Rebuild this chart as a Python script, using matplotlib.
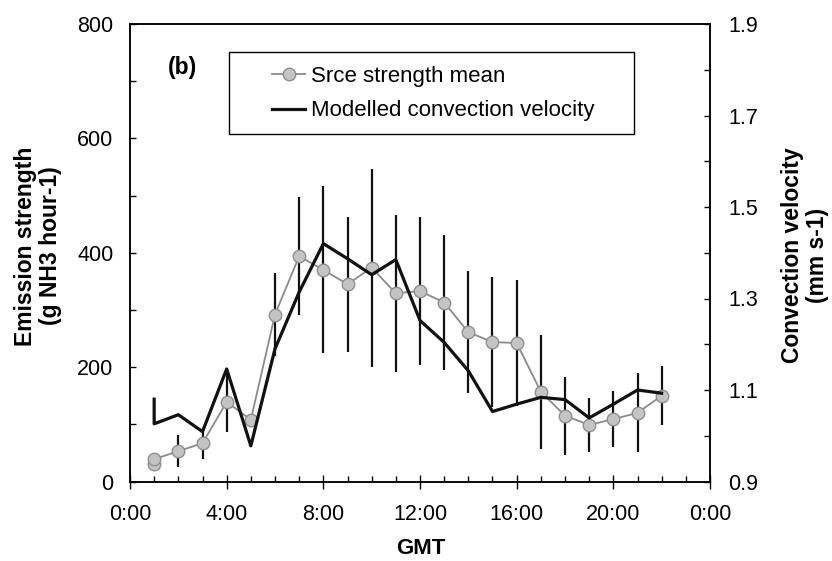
import matplotlib
matplotlib.use("Agg")
import matplotlib.pyplot as plt
from matplotlib.patches import Rectangle
from matplotlib.lines import Line2D
import numpy as np

plt.rcParams['font.family'] = ['Liberation Sans', 'DejaVu Sans']

# ---- data ----
hours = [1, 1, 2, 3, 4, 5, 6, 7, 8, 9, 10, 11, 12, 13, 14, 15, 16, 17, 18, 19, 20, 21, 22]
src_mean = [30, 39, 53, 67, 139, 108, 292, 394, 370, 345, 374, 329, 333, 313, 261, 244,
            242, 157, 115, 99, 109, 120, 150]
src_err = [0, 5, 28, 27, 52, 10, 72, 103, 146, 118, 173, 137, 129, 118, 107, 113,
           110, 100, 68, 47, 49, 69, 52]
conv_vel = [1.080, 1.026, 1.046, 1.009, 1.146, 0.978, 1.190, 1.314, 1.420, 1.387, 1.352,
            1.385, 1.252, 1.204, 1.142, 1.053, 1.069, 1.084, 1.079, 1.039, 1.069, 1.100, 1.093]
xtick_hours = [0, 4, 8, 12, 16, 20, 24]
xtick_labels = ["0:00", "4:00", "8:00", "12:00", "16:00", "20:00", "0:00"]
left_ticks = [0, 200, 400, 600, 800]
right_ticks = [0.9, 1.1, 1.3, 1.5, 1.7, 1.9]
right_tick_labels = ["0.9", "1.1", "1.3", "1.5", "1.7", "1.9"]

W, H = 832, 561
fig = plt.figure(figsize=(W / 100, H / 100), dpi=100)
x0, x1, ytop, ybot = 130, 710, 24, 481.5
ax = fig.add_axes([x0 / W, 1 - ybot / H, (x1 - x0) / W, (ybot - ytop) / H])
ax2 = ax.twinx()

# error bars + source strength
ax.errorbar(hours, src_mean, yerr=src_err, fmt='none', ecolor='#111111',
            elinewidth=1.6, capsize=0, zorder=2)
ax.plot(hours, src_mean, color='#8a8a8a', lw=1.3, marker='o', markersize=9,
        markerfacecolor='#c4c4c4', markeredgecolor='#8f8f8f', markeredgewidth=1.0, zorder=3)

ax2.plot(hours, conv_vel, color='#111111', lw=2.3, zorder=4)

ax.set_xlim(0, 24)
ax.set_ylim(0, 800)
ax2.set_ylim(0.9, 1.9)

ax.set_xticks(xtick_hours)
ax.set_xticklabels(xtick_labels)
ax.set_xticks(np.arange(0, 25, 1), minor=True)
ax.set_yticks(left_ticks)
ax.set_yticks(np.arange(100, 800, 200), minor=True)
ax2.set_yticks(right_ticks)
ax2.set_yticklabels(right_tick_labels)
ax2.set_yticks(np.arange(1.0, 1.9, 0.2), minor=True)

ax.tick_params(axis='x', which='major', direction='inout', length=10, width=1.0,
               labelsize=15.5, pad=11)
ax.tick_params(axis='x', which='minor', direction='in', length=4.5, width=1.0)
ax.tick_params(axis='y', which='both', direction='in', length=4, width=1.0,
               labelsize=15.5, pad=12)
ax2.tick_params(axis='y', which='both', direction='in', length=4.5, width=1.0,
                labelsize=15.5, pad=13)

for a in (ax, ax2):
    for s in a.spines.values():
        s.set_linewidth(1.1)
        s.set_color('black')

# axis labels
fig.text(38 / W, 1 - 246 / H, "Emission strength\n(g NH3 hour-1)", rotation=90,
         ha='center', va='center', fontsize=16.5, fontweight='bold', multialignment='center',
         linespacing=1.15)
fig.text(805 / W, 1 - 255 / H, "Convection velocity\n(mm s-1)", rotation=90,
         ha='center', va='center', fontsize=16.5, fontweight='bold', multialignment='center',
         linespacing=1.15)
fig.text(421 / W, 1 - 548 / H, "GMT", ha='center', va='center', fontsize=16,
         fontweight='bold')

ax.text(0.091, 0.906, "(b)", transform=ax.transAxes, ha='center', va='center',
        fontsize=16.5, fontweight='bold')

# legend frame and legend
ax2.add_patch(Rectangle((0.170, 0.759), 0.699, 0.180, transform=ax.transAxes,
                        facecolor='white', edgecolor='black', lw=1.0, zorder=5))
h1 = Line2D([], [], color='#8a8a8a', lw=1.3, marker='o', markersize=9,
            markerfacecolor='#c4c4c4', markeredgecolor='#8f8f8f')
h2 = Line2D([], [], color='#111111', lw=2.3)
leg = ax2.legend([h1, h2], ["Srce strength mean", "Modelled convection velocity"],
                 loc='center left', bbox_to_anchor=(0.245, 0.848), frameon=False,
                 fontsize=16, handlelength=1.5, handletextpad=0.25, labelspacing=0.62,
                 borderpad=0, borderaxespad=0, numpoints=1)
leg.set_zorder(6)

fig.savefig("out.png", dpi=100)
